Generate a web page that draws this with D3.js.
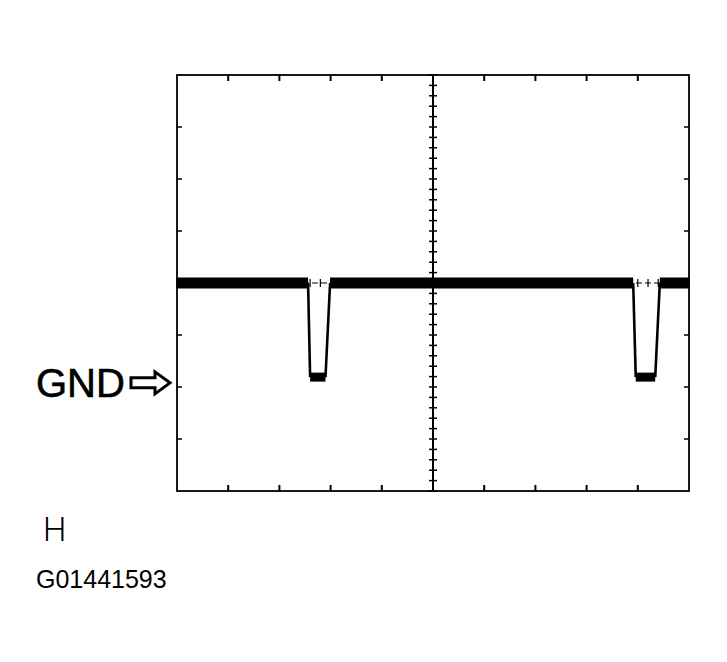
<!DOCTYPE html>
<html>
<head>
<meta charset="utf-8">
<script src="https://cdn.jsdelivr.net/npm/d3@7"></script>
<style>
body{margin:0;background:#fff;}
</style>
</head>
<body>
<script>
// trace, in scope divisions (x: 0..10 time, y: -4..4 volts)
var traceTime=[0,2.56,2.60,2.90,2.99,8.91,8.96,9.34,9.43,10];
var traceVolt=[0,0,-1.81,-1.81,0,0,-1.81,-1.81,0,0];
var gndLevel=-1.92;
var timeDivs=d3.range(0,11);
var voltDivs=d3.range(-4,5);
var minorTicks=d3.range(-4,4.01,0.2);
var minorTicksX=d3.range(0,10.01,0.2);
var labelGnd="GND";
var labelH="H";
var labelCode="G01441593";

var width=727,height=662;
var svg=d3.select("body").append("svg")
          .attr("width",width)
          .attr("height",height);

var x=d3.scaleLinear().domain([0,10]).range([177,689]);
var y=d3.scaleLinear().domain([-4,4]).range([491,75]);

var trace=traceTime.map(function(t,i){return {t:t,v:traceVolt[i]};});

// center axes with minor ticks
svg.append("line")
   .attr("x1",x(5)).attr("x2",x(5))
   .attr("y1",y(4)).attr("y2",y(-4))
   .attr("stroke","#000").attr("stroke-width",2);
svg.append("line")
   .attr("x1",x(0)).attr("x2",x(10))
   .attr("y1",y(0)).attr("y2",y(0))
   .attr("stroke","#000").attr("stroke-width",1.2)
   .attr("stroke-dasharray","6,3");
svg.selectAll("line.my")
   .data(minorTicks)
   .enter()
   .append("line")
   .attr("class","my")
   .attr("x1",x(5)-4).attr("x2",x(5)+4)
   .attr("y1",function(d){return y(d);})
   .attr("y2",function(d){return y(d);})
   .attr("stroke","#000").attr("stroke-width",1.5);
svg.selectAll("line.mx")
   .data(minorTicksX)
   .enter()
   .append("line")
   .attr("class","mx")
   .attr("x1",function(d){return x(d);})
   .attr("x2",function(d){return x(d);})
   .attr("y1",y(0)-4).attr("y2",y(0)+4)
   .attr("stroke","#000").attr("stroke-width",1.2);

// frame
svg.append("rect")
   .attr("x",x(0)).attr("y",y(4))
   .attr("width",x(10)-x(0)).attr("height",y(-4)-y(4))
   .attr("fill","none").attr("stroke","#000").attr("stroke-width",1.8);

// major ticks on the frame
svg.selectAll("line.tt")
   .data(timeDivs.slice(1,-1))
   .enter()
   .append("line")
   .attr("class","tt")
   .attr("x1",function(d){return x(d);})
   .attr("x2",function(d){return x(d);})
   .attr("y1",y(4)).attr("y2",y(4)+6)
   .attr("stroke","#000").attr("stroke-width",2);
svg.selectAll("line.tb")
   .data(timeDivs.slice(1,-1))
   .enter()
   .append("line")
   .attr("class","tb")
   .attr("x1",function(d){return x(d);})
   .attr("x2",function(d){return x(d);})
   .attr("y1",y(-4)).attr("y2",y(-4)-6)
   .attr("stroke","#000").attr("stroke-width",2);
svg.selectAll("line.vl")
   .data(voltDivs.slice(1,-1))
   .enter()
   .append("line")
   .attr("class","vl")
   .attr("x1",x(0)).attr("x2",x(0)+5)
   .attr("y1",function(d){return y(d);})
   .attr("y2",function(d){return y(d);})
   .attr("stroke","#000").attr("stroke-width",1.5);
svg.selectAll("line.vr")
   .data(voltDivs.slice(1,-1))
   .enter()
   .append("line")
   .attr("class","vr")
   .attr("x1",x(10)).attr("x2",x(10)-5)
   .attr("y1",function(d){return y(d);})
   .attr("y2",function(d){return y(d);})
   .attr("stroke","#000").attr("stroke-width",1.5);

// trace: thin edges, thick noisy flat parts
var segs=d3.pairs(trace);
svg.selectAll("line.seg")
   .data(segs)
   .enter()
   .append("line")
   .attr("class","seg")
   .attr("x1",function(d){return x(d[0].t);})
   .attr("y1",function(d){return y(d[0].v);})
   .attr("x2",function(d){return x(d[1].t);})
   .attr("y2",function(d){return y(d[1].v);})
   .attr("stroke","#000")
   .attr("stroke-linecap","butt")
   .attr("stroke-width",function(d){
     if(d[0].v!=d[1].v) return 2.6;
     return d[0].v==0 ? 11 : 9;
   });

// GND marker
var gy=y(gndLevel);
svg.append("text")
   .text(labelGnd)
   .attr("x",36).attr("y",gy+14)
   .attr("font-family","Liberation Sans, Arial, sans-serif")
   .attr("font-size",40)
   .attr("stroke","#000").attr("stroke-width",0.6)
   .attr("fill","#000");
var ax=131;
svg.append("path")
   .attr("d",d3.line()([[ax,gy-5],[ax+24,gy-5],[ax+24,gy-11],[ax+39,gy],[ax+24,gy+11],[ax+24,gy+5],[ax,gy+5]])+"Z")
   .attr("fill","#fff").attr("stroke","#000").attr("stroke-width",3)
   .attr("stroke-linejoin","miter");

svg.append("text")
   .text(labelH)
   .attr("x",43).attr("y",541)
   .attr("font-family","Roboto, sans-serif")
   .attr("font-weight",300)
   .attr("font-size",33)
   .attr("fill","#000");
svg.append("text")
   .text(labelCode)
   .attr("x",36).attr("y",588)
   .attr("font-family","Liberation Sans, Arial, sans-serif")
   .attr("font-size",25)
   .attr("fill","#000");
</script>
</body>
</html>
